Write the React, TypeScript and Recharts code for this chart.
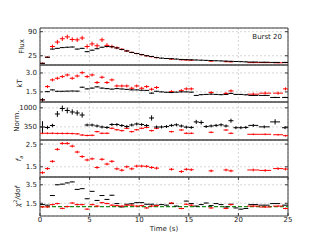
import { CartesianGrid, ErrorBar, ReferenceArea, ReferenceLine, Scatter, ScatterChart, XAxis, YAxis } from 'recharts'

// time bins (s) and half widths
const T_BLACK = [0.25, 0.75, 1.25, 1.75, 2.25, 2.75, 3.25, 3.75, 4.25, 4.75, 5.25, 5.75, 6.25, 6.75, 7.25, 7.75, 8.25, 8.75, 9.25, 9.75, 10.25, 10.75, 11.25, 11.75, 12.25, 12.75, 13.25, 13.75, 14.25, 14.75, 15.25, 15.75, 16.25, 16.75, 17.25, 17.75, 18.25, 18.75, 19.25, 19.75, 20.25, 20.75, 21.5, 22.6, 23.7, 24.7]
const DT_BLACK = [0.25, 0.25, 0.25, 0.25, 0.25, 0.25, 0.25, 0.25, 0.25, 0.25, 0.25, 0.25, 0.25, 0.25, 0.25, 0.25, 0.25, 0.25, 0.25, 0.25, 0.25, 0.25, 0.25, 0.25, 0.25, 0.25, 0.25, 0.25, 0.25, 0.25, 0.25, 0.25, 0.25, 0.25, 0.25, 0.25, 0.25, 0.25, 0.25, 0.25, 0.25, 0.25, 0.5, 0.55, 0.5, 0.3]
const T_RED = [0.25, 0.75, 1.25, 1.75, 2.25, 2.75, 3.25, 3.75, 4.25, 4.75, 5.25, 5.75, 6.25, 6.75, 7.25, 7.75, 8.25, 8.75, 9.25, 9.75, 10.25, 10.75, 11.25, 11.75, 13.25, 14.25, 14.75, 15.25, 17.25, 18.75, 19.25, 21.5, 22.7, 24.0, 24.75]
const DT_RED = [0.25, 0.25, 0.25, 0.25, 0.25, 0.25, 0.25, 0.25, 0.25, 0.25, 0.25, 0.25, 0.25, 0.25, 0.25, 0.25, 0.25, 0.25, 0.25, 0.25, 0.25, 0.25, 0.25, 0.25, 0.25, 0.25, 0.25, 0.25, 0.25, 0.25, 0.25, 0.6, 0.6, 0.5, 0.25]

// black = blackbody fit, red = fa fit
const FLUX_BLACK = [4.6, 21, 43, 45, 47, 48, 48.6, 43, 45, 36, 40, 44, 48, 50, 49, 46, 42, 38, 34, 31, 28, 25, 23, 20, 18.5, 17.5, 17, 16, 15, 14.5, 14, 13.5, 13, 12.5, 12, 11.5, 11, 10.5, 10, 9.5, 9, 8.5, 8, 7.5, 7, 7]
const FLUX_BLACK_ERR = 1.2
const FLUX_RED = [4.6, 21, 50, 62, 71, 76, 69, 68, 73, 50, 57, 52, 68, 53, 50, 46.5, 42.5, 38, 34, 31, 28, 25, 22.5, 20, 16, 14, 13.5, 13, 10.5, 9, 8.5, 6.5, 6.5, 6, 6.5]
const FLUX_RED_ERR = [1.5, 2, 5, 6, 6, 6, 6, 6, 6, 6, 6, 6, 6, 6, 5, 4, 3, 3, 2, 2, 2, 2, 2, 2, 1.5, 1.5, 1.5, 1.5, 1.5, 1.5, 1.5, 1.5, 1.5, 1.5, 1.5]

const KT_BLACK = [0.87, 1.52, 1.66, 1.55, 1.55, 1.56, 1.57, 1.56, 1.87, 1.74, 1.8, 1.9, 1.8, 1.76, 1.72, 1.76, 1.73, 1.7, 1.66, 1.66, 1.63, 1.62, 1.4, 1.55, 1.5, 1.47, 1.45, 1.48, 1.5, 1.5, 1.48, 1.22, 1.28, 1.3, 1.32, 1.3, 1.28, 1.3, 1.38, 1.3, 1.3, 1.27, 1.22, 1.22, 1.06, 1.06]
const KT_BLACK_ERR = [0.13, 0.04, 0.04, 0.03, 0.03, 0.03, 0.03, 0.03, 0.04, 0.04, 0.04, 0.04, 0.04, 0.04, 0.03, 0.03, 0.03, 0.03, 0.03, 0.03, 0.03, 0.03, 0.05, 0.03, 0.03, 0.03, 0.03, 0.03, 0.03, 0.03, 0.03, 0.04, 0.04, 0.04, 0.04, 0.04, 0.04, 0.04, 0.05, 0.04, 0.04, 0.04, 0.04, 0.04, 0.05, 0.05]
const KT_RED = [0.87, 1.92, 2.45, 2.58, 2.71, 2.84, 2.58, 2.76, 3.02, 2.71, 2.84, 2.24, 2.66, 2.24, 2.45, 1.97, 1.97, 1.97, 1.79, 1.97, 1.79, 1.92, 1.71, 1.85, 1.52, 1.6, 1.74, 1.74, 1.45, 1.38, 1.58, 1.32, 1.4, 1.4, 1.74]
const KT_RED_ERR = 0.12

const NORM_BLACK = [345, 328, 396, 790, 978, 910, 858, 824, 755, 413, 413, 380, 345, 328, 430, 430, 396, 362, 413, 448, 430, 396, 653, 345, 345, 360, 400, 420, 380, 340, 330, 520, 500, 360, 380, 400, 420, 380, 560, 320, 320, 330, 400, 350, 520, 320]
const NORM_BLACK_ERR = [200, 60, 60, 100, 100, 100, 90, 90, 90, 50, 50, 50, 50, 50, 50, 50, 50, 50, 50, 50, 50, 50, 90, 50, 50, 50, 50, 50, 50, 50, 50, 70, 70, 50, 50, 50, 50, 50, 70, 50, 50, 50, 50, 50, 90, 50]
const NORM_RED = [130, 130, 130, 125, 125, 125, 120, 110, 70, 55, 60, 185, 130, 130, 300, 250, 220, 300, 185, 250, 300, 330, 220, 300, 185, 242, 130, 130, 164, 242, 130, 95, 95, 80, 47]
const NORM_RED_ERR = 30

const FA_RED = [1.24, 1.42, 1.74, 2.27, 2.53, 2.53, 2.41, 2.15, 1.95, 1.8, 1.85, 1.47, 1.83, 1.62, 1.74, 1.41, 1.35, 1.5, 1.41, 1.53, 1.53, 1.52, 1.47, 1.44, 1.39, 1.29, 1.39, 1.37, 1.32, 1.36, 1.32, 1.36, 1.34, 1.42, 1.4]
const FA_RED_ERR = 0.06

const CHI_BLACK = [1.36, 1.3, 2.34, 3.5, 3.57, 3.7, 3.81, 3.0, 3.08, 1.99, 2.79, 1.81, 2.34, 1.92, 2.37, 1.47, 1.11, 1.4, 1.45, 1.57, 1.57, 1.4, 1.4, 1.3, 1.36, 1.3, 1.47, 1.2, 0.94, 1.74, 1.47, 1.2, 1.36, 1.53, 1.25, 1.47, 1.36, 1.1, 1.4, 1.0, 0.87, 0.94, 1.36, 1.3, 1.47, 1.3]
const CHI_BLACK_ERR = 0.03
const CHI_RED = [1.11, 1.11, 1.36, 1.47, 0.95, 1.15, 1.53, 1.36, 1.36, 0.87, 1.36, 1.2, 1.57, 1.47, 1.3, 1.25, 1.2, 1.3, 1.3, 1.2, 1.25, 1.0, 1.2, 1.25, 1.53, 0.94, 1.4, 1.3, 1.0, 0.94, 1.36, 1.2, 1.1, 1.2, 0.94]
const CHI_RED_ERR = 0.09
const CHI_REF = 1.15

const X_TICKS = [0, 5, 10, 15, 20, 25]

const PLOT_L = 40
const PLOT_R = 288
const FONT = 7
const INK = '#222'
const FRAME = '#3a3a3a'
const BLACK = '#000000'
const RED = '#ff0000'

type Row = { t: number; dt: number; v: number; dv: number }

function rows(t: number[], dt: number[], v: number[], dv: number[] | number): Row[] {
  return t.map((x, i) => ({ t: x, dt: dt[i], v: v[i], dv: Array.isArray(dv) ? dv[i] : dv }))
}

const noDot = () => <g />

function XTick(props: any) {
  const { x, y, payload, h, showLabel } = props
  const base = y - 1
  return (
    <g>
      <line x1={x} x2={x} y1={base} y2={base - 3} stroke={FRAME} />
      <line x1={x} x2={x} y1={base - h} y2={base - h + 3} stroke={FRAME} />
      {showLabel && (
        <text x={x} y={y} dy="0.71em" textAnchor="middle" fontSize={FONT} fill={INK}>
          {payload.value}
        </text>
      )}
    </g>
  )
}

function YTick(props: any) {
  const { x, y, payload, fmt } = props
  return (
    <g>
      <line x1={PLOT_L} x2={PLOT_L + 3} y1={y} y2={y} stroke={FRAME} />
      <line x1={PLOT_R - 3} x2={PLOT_R} y1={y} y2={y} stroke={FRAME} />
      <text x={x} y={y} dy="0.35em" textAnchor="end" fontSize={FONT} fill={INK}>
        {fmt(payload.value)}
      </text>
    </g>
  )
}

type Series = { data: Row[]; color: string }

type PanelProps = {
  top: number
  height: number
  domain: [number, number]
  ticks: number[]
  fmt: (v: number) => string
  title: any
  titleX: number
  series: Series[]
  last?: boolean
  refY?: number
  note?: string
}

function Panel(p: PanelProps) {
  const pad = 2
  const axisH = p.last ? 22 : 0
  return (
    <div style={{ position: 'absolute', left: 0, top: p.top - pad }}>
      <ScatterChart
        width={320}
        height={p.height + pad + (p.last ? axisH : pad)}
        margin={{ top: pad, right: 320 - PLOT_R, bottom: p.last ? 0 : pad, left: 0 }}
      >
        <CartesianGrid stroke="#cccccc" strokeDasharray="2 2" strokeWidth={0.8} />
        <XAxis
          dataKey="t"
          type="number"
          domain={[0, 25]}
          ticks={X_TICKS}
          interval={0}
          allowDataOverflow
          height={axisH}
          tickSize={0}
          tickMargin={1}
          axisLine={false}
          tick={(tp: any) => <XTick {...tp} h={p.height} showLabel={!!p.last} />}
          label={p.last ? { value: 'Time (s)', position: 'insideBottom', offset: 7, fontSize: FONT, fill: INK } : undefined}
        />
        <YAxis
          dataKey="v"
          type="number"
          domain={p.domain}
          ticks={p.ticks}
          interval={0}
          allowDataOverflow
          width={PLOT_L}
          tickSize={0}
          tickMargin={3}
          axisLine={false}
          tick={(tp: any) => <YTick {...tp} fmt={p.fmt} />}
          label={{
            content: () => (
              <text
                transform={`translate(${p.titleX},${pad + p.height / 2}) rotate(-90)`}
                textAnchor="middle"
                dominantBaseline="central"
                fontSize={FONT}
                fill={INK}
              >
                {p.title}
              </text>
            ),
          }}
        />
        {p.refY !== undefined && (
          <ReferenceLine y={p.refY} stroke="#1e8c1e" strokeDasharray="4 2" strokeWidth={1.2} />
        )}
        {p.series.map((s, i) => (
          <Scatter key={i} data={s.data} fill={s.color} shape={noDot} isAnimationActive={false}>
            <ErrorBar dataKey="dt" direction="x" width={0} stroke={s.color} strokeWidth={1} isAnimationActive={false} />
            <ErrorBar dataKey="dv" direction="y" width={0} stroke={s.color} strokeWidth={1} isAnimationActive={false} />
          </Scatter>
        ))}
        <ReferenceArea
          x1={0}
          x2={25}
          y1={p.domain[0]}
          y2={p.domain[1]}
          fill="none"
          stroke={FRAME}
          strokeWidth={1}
          label={p.note ? { value: p.note, position: 'insideTopRight', offset: 6, fontSize: FONT, fill: INK } : undefined}
        />
      </ScatterChart>
    </div>
  )
}

const int = (v: number) => String(v)
const one = (v: number) => v.toFixed(1)

export default function App() {
  return (
    <div
      style={{
        position: 'absolute',
        left: 0,
        top: 0,
        width: 320,
        height: 240,
        background: '#fff',
        fontFamily: '"DejaVu Sans", sans-serif',
      }}
    >
      <Panel
        top={28}
        height={37}
        domain={[0, 100]}
        ticks={[25, 90]}
        fmt={int}
        title="Flux"
        titleX={22}
        note="Burst 20"
        series={[
          { data: rows(T_RED, DT_RED, FLUX_RED, FLUX_RED_ERR), color: RED },
          { data: rows(T_BLACK, DT_BLACK, FLUX_BLACK, FLUX_BLACK_ERR), color: BLACK },
        ]}
      />
      <Panel
        top={65}
        height={37}
        domain={[0.7, 3.63]}
        ticks={[1.5, 3.0]}
        fmt={one}
        title="kT"
        titleX={20}
        series={[
          { data: rows(T_RED, DT_RED, KT_RED, KT_RED_ERR), color: RED },
          { data: rows(T_BLACK, DT_BLACK, KT_BLACK, KT_BLACK_ERR), color: BLACK },
        ]}
      />
      <Panel
        top={102}
        height={38}
        domain={[-100, 1200]}
        ticks={[350, 1000]}
        fmt={int}
        title="Norm."
        titleX={17}
        series={[
          { data: rows(T_RED, DT_RED, NORM_RED, NORM_RED_ERR), color: RED },
          { data: rows(T_BLACK, DT_BLACK, NORM_BLACK, NORM_BLACK_ERR), color: BLACK },
        ]}
      />
      <Panel
        top={140}
        height={37}
        domain={[1.05, 2.68]}
        ticks={[1.5, 2.5]}
        fmt={one}
        title={
          <>
            <tspan fontStyle="italic">f</tspan>
            <tspan fontStyle="italic" fontSize={5} dy={2}>a</tspan>
          </>
        }
        titleX={19}
        series={[{ data: rows(T_RED, DT_RED, FA_RED, FA_RED_ERR), color: RED }]}
      />
      <Panel
        top={177}
        height={39}
        domain={[0.13, 4.34]}
        ticks={[1.5, 3.5]}
        fmt={one}
        title={
          <>
            <tspan fontStyle="italic">χ</tspan>
            <tspan fontSize={5} dy={-3}>2</tspan>
            <tspan fontStyle="italic" dy={3}>/dof</tspan>
          </>
        }
        titleX={18}
        refY={CHI_REF}
        last
        series={[
          { data: rows(T_BLACK, DT_BLACK, CHI_BLACK, CHI_BLACK_ERR), color: BLACK },
          { data: rows(T_RED, DT_RED, CHI_RED, CHI_RED_ERR), color: RED },
        ]}
      />
    </div>
  )
}
